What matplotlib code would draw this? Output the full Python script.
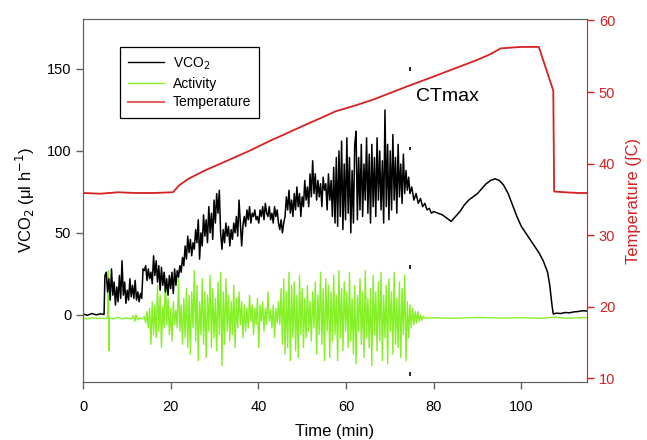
import numpy as np
import matplotlib
matplotlib.use("Agg")
import matplotlib.pyplot as plt
from matplotlib.lines import Line2D

plt.rcParams['font.family'] = ['Liberation Sans', 'DejaVu Sans']

# VCO2 trace (time in min, value in ul/h)
vco2_t = [0, 1, 2, 3, 4, 4.8, 5.0, 5.3, 5.6, 5.9, 6.2, 6.5, 6.8, 7.1, 7.4, 7.7, 8.0, 8.3, 8.6, 8.9,
          9.2, 9.5, 9.8, 10.1, 10.4, 10.7, 11.0, 11.3, 11.6, 11.9, 12.2, 12.5, 12.8, 13.1, 13.4, 13.7,
          14.0, 14.3, 14.6, 14.9, 15.2, 15.5, 15.8, 16.1, 16.4, 16.7, 17.0, 17.3, 17.6, 17.9, 18.2,
          18.5, 18.8, 19.1, 19.4, 19.7, 20.0, 20.3, 20.6, 20.9, 21.2, 21.5, 21.8, 22.1, 22.4, 22.7,
          23.0, 23.3, 23.6, 23.9, 24.2, 24.5, 24.8, 25.1, 25.4, 25.7, 26.0, 26.3, 26.6, 26.9, 27.2,
          27.5, 27.8, 28.1, 28.4, 28.7, 29.0, 29.3, 29.6, 29.9, 30.2, 30.5, 30.8, 31.1, 31.4, 31.7,
          32.0, 32.3, 32.6, 32.9, 33.2, 33.5, 33.8, 34.1, 34.4, 34.7, 35.0, 35.3, 35.6, 35.9, 36.2,
          36.5, 36.8, 37.1, 37.4, 37.7, 38.0, 38.3, 38.6, 38.9, 39.2, 39.5, 39.8, 40.1, 40.4, 40.7,
          41.0, 41.3, 41.6, 41.9, 42.2, 42.5, 42.8, 43.1, 43.4, 43.7, 44.0, 44.3, 44.6, 44.9, 45.2,
          45.5, 45.8, 46.1, 46.4, 46.7, 47.0, 47.3, 47.6, 47.9, 48.2, 48.5, 48.8, 49.1, 49.4, 49.7,
          50.0, 50.3, 50.6, 50.9, 51.2, 51.5, 51.8, 52.1, 52.4, 52.7, 53.0, 53.3, 53.6, 53.9, 54.2,
          54.5, 54.8, 55.1, 55.4, 55.7, 56.0, 56.3, 56.6, 56.9, 57.2, 57.5, 57.8, 58.1, 58.4, 58.7,
          59.0, 59.3, 59.6, 59.9, 60.2, 60.5, 60.8, 61.1, 61.4, 61.7, 62.0, 62.3, 62.6, 62.9, 63.2,
          63.5, 63.8, 64.1, 64.4, 64.7, 65.0, 65.3, 65.6, 65.9, 66.2, 66.5, 66.8, 67.1, 67.4, 67.7,
          68.0, 68.3, 68.6, 68.9, 69.2, 69.5, 69.8, 70.1, 70.4, 70.7, 71.0, 71.3, 71.6, 71.9, 72.2,
          72.5, 72.8, 73.1, 73.4, 73.7, 74.0, 74.3, 74.6, 75.0, 75.5, 76.0, 76.5, 77.0, 77.5, 78.0,
          78.5, 79.0, 79.5, 80.0, 81.0, 82.0, 83.0, 84.0, 85.0, 86.0, 87.0, 88.0, 89.0, 90.0, 91.0,
          92.0, 93.0, 94.0, 95.0, 96.0, 97.0, 98.0, 99.0, 100.0, 101.0, 102.0, 103.0, 104.0, 105.0,
          106.0, 106.5, 107.0, 107.3, 108, 109, 110, 111, 112, 113, 114, 115]
vco2_v = [0.5, -0.3, 0.8, 0, 0.6, 0.2, 24, 26, 14, 22, 9, 28, 12, 20, 6, 17, 8, 24, 10, 33,
          12, 20, 7, 15, 9, 22, 11, 18, 10, 21, 9, 14, 8, 13, 10, 28,
          27, 30, 21, 28, 22, 26, 19, 36, 24, 33, 20, 30, 15, 29, 18,
          26, 14, 22, 12, 24, 16, 26, 13, 28, 18, 27, 23, 30, 26, 35,
          30, 42, 34, 48, 38, 46, 36, 44, 40, 52, 44, 58, 34, 50, 42,
          61, 48, 58, 44, 66, 50, 62, 46, 70, 56, 74, 62, 76, 50, 40,
          52, 44, 56, 48, 54, 42, 52, 46, 56, 50, 60, 48, 70, 56, 42,
          55, 60, 54, 64, 58, 66, 56, 62, 60, 64, 58, 60, 56, 64, 60,
          66, 58, 68, 62, 60, 66, 58, 62, 56, 66, 60, 64, 56, 52, 58,
          50, 56, 60, 72, 64, 76, 62, 70, 60, 74, 64, 78, 66, 74, 60,
          72, 66, 82, 70, 78, 66, 86, 72, 94, 74, 86, 70, 82, 72, 80,
          66, 84, 76, 80, 64, 86, 70, 82, 60, 90, 56, 96, 54, 100, 60,
          106, 52, 92, 58, 108, 62, 96, 50, 88, 56, 104, 112, 58, 96, 64,
          104, 60, 92, 70, 108, 62, 98, 56, 104, 66, 96, 60, 108, 70, 100,
          64, 94, 56, 125, 66, 104, 58, 100, 64, 110, 70, 96, 62, 104, 72,
          92, 68, 98, 74, 88, 76, 84, 74, 78, 70, 74, 68, 71, 66, 68,
          64, 65, 62, 63, 62, 61, 59, 57, 60, 63, 67, 70, 72, 74, 77,
          80, 82, 83, 82, 79, 74, 67, 60, 54, 50, 46, 42, 38, 33,
          26, 18, 6, 0.5, 1, 0.8, 1.4, 1.2, 1.8, 2, 2.5, 2.3]

# activity trace (same left axis units)
act_t = [0, 1, 2, 3, 4, 5, 5.6, 5.8, 5.9, 6.0, 7, 8, 9, 10, 11, 11.5, 11.8, 12.1, 12.4, 13, 13.5,
         14, 14.3, 14.6, 14.9, 15.2, 15.5, 15.8, 16.1, 16.4, 16.7, 17.0, 17.3, 17.6, 17.9, 18.2,
         18.5, 18.8, 19.1, 19.4, 19.7, 20.0, 20.3, 20.6, 20.9, 21.2, 21.5, 21.8, 22.1, 22.4, 22.7,
         23.0, 23.3, 23.6, 23.9, 24.2, 24.5, 24.8, 25.1, 25.4, 25.7, 26.0, 26.3, 26.6, 26.9, 27.2,
         27.5, 27.8, 28.1, 28.4, 28.7, 29.0, 29.3, 29.6, 29.9, 30.2, 30.5, 30.8, 31.1, 31.4, 31.7,
         32.0, 32.3, 32.6, 32.9, 33.2, 33.5, 33.8, 34.1, 34.4, 34.7, 35.0, 35.3, 35.6, 35.9, 36.2,
         36.5, 36.8, 37.1, 37.4, 37.7, 38.0, 38.3, 38.6, 38.9, 39.2, 39.5, 39.8, 40.1, 40.4, 40.7,
         41.0, 41.3, 41.6, 41.9, 42.2, 42.5, 42.8, 43.1, 43.4, 43.7, 44.0, 44.3, 44.6, 44.9, 45.2,
         45.5, 45.8, 46.1, 46.4, 46.7, 47.0, 47.3, 47.6, 47.9, 48.2, 48.5, 48.8, 49.1, 49.4, 49.7,
         50.0, 50.3, 50.6, 50.9, 51.2, 51.5, 51.8, 52.1, 52.4, 52.7, 53.0, 53.3, 53.6, 53.9, 54.2,
         54.5, 54.8, 55.1, 55.4, 55.7, 56.0, 56.3, 56.6, 56.9, 57.2, 57.5, 57.8, 58.1, 58.4, 58.7,
         59.0, 59.3, 59.6, 59.9, 60.2, 60.5, 60.8, 61.1, 61.4, 61.7, 62.0, 62.3, 62.6, 62.9, 63.2,
         63.5, 63.8, 64.1, 64.4, 64.7, 65.0, 65.3, 65.6, 65.9, 66.2, 66.5, 66.8, 67.1, 67.4, 67.7,
         68.0, 68.3, 68.6, 68.9, 69.2, 69.5, 69.8, 70.1, 70.4, 70.7, 71.0, 71.3, 71.6, 71.9, 72.2,
         72.5, 72.8, 73.1, 73.4, 73.7, 74.0, 74.3, 74.6, 74.9, 75.2, 75.5, 75.8, 76.1, 76.4, 76.7,
         77.0, 77.3, 77.6, 78, 80, 85, 90, 95, 100, 105, 107.3, 110, 115]
act_v = [-2, -2.5, -1.8, -2.2, -2, -2.3, -2, 27, -22, -2, -2.5, -1.5, -2.5, -1.8, -2.6, -0.5, -4, 0, -3, -2, -2.5,
         -1, -5, 2, -8, 4, -18, 8, -12, 6, -14, 18, -10, 12, -20, 5,
         -8, 24, -6, 10, -12, 4, -16, 8, -6, 3, -8, 22, -10, 6, -18,
         10, -14, 16, -20, 12, -24, 14, -8, 27, -16, 18, -28, 8, -12, 22,
         -18, 14, -26, 12, -10, 24, -20, 16, -14, 10, -22, 20, -12, 26, -31,
         14, -18, 22, -10, 12, -16, 8, -12, 18, -20, 10, -8, 14, -6, 8,
         -14, 6, -10, 4, -8, 12, -4, 6, -12, 4, -6, 10, -20, 6, -4,
         8, -10, 4, -6, 14, -4, 3, -8, 6, -14, 4, -5, 8, -6, 16,
         -18, 22, -24, 14, -20, 26, -28, 18, -14, 20, -22, 12, -26, 24, -12,
         16, -20, 10, -14, 18, -10, 8, -16, 14, -8, 20, -24, 12, -12, 26,
         -18, 16, -28, 22, -10, 18, -26, 14, -16, 24, -12, 12, -28, 27, -14,
         16, -22, 20, -10, 14, -20, 26, -16, 10, -24, 18, -30, 12, -10, 22,
         -18, 14, -26, 27, -14, 10, -20, 16, -31, 24, -12, 14, -22, 20, -16,
         26, -28, 12, -14, 18, -30, 22, -10, 14, -24, 26, -18, 10, -20, 20,
         -26, 16, -12, 24, -28, 8, -14, 6, -8, 4, -6, 2, -5, 2, -4,
         0, -3.5, -1, -2, -1.8, -2.1, -1.6, -2, -1.8, -2.1, -1.4, -2, -1.7]

# temperature (right axis, deg C)
temp_t = [0, 4, 8, 12, 16, 20.5, 22.0, 24.1, 28, 33.6, 38, 42.7, 46, 50.3, 54, 57.6, 62, 66,
          69.4, 74, 79.3, 84, 90, 93, 95.3, 100, 104.0, 107.3, 107.5, 110, 113, 115]
temp_v = [35.9, 35.8, 36.0, 35.9, 35.9, 36.0, 37.0, 37.9, 39.1, 40.6, 41.8, 43.2, 44.1, 45.3, 46.3, 47.3,
          48.1, 48.9, 49.7, 50.8, 52.0, 53.1, 54.5, 55.3, 56.1, 56.3, 56.3, 50.2, 36.1, 36.0, 35.9, 35.9]

# short tick marks at the CTmax time
ctmax_t = 74.5
ctmax_marks = [150, 101.5, 29, -36]

fig = plt.figure(figsize=(6.47, 4.4), dpi=100)
ax = fig.add_axes([0.1283, 0.1318, 0.779, 0.825])
ax2 = ax.twinx()

ax.plot(act_t, act_v, color='#86f026', lw=1.0, zorder=2)
ax.plot(vco2_t, vco2_v, color='black', lw=1.1, zorder=3)
ax2.plot(temp_t, temp_v, color='#d42121', lw=1.3)

for m in ctmax_marks:
    ax.vlines(ctmax_t, m - 1.2, m + 1.2, color='black', lw=1.2)
ax.text(75.9, 133, 'CTmax', fontsize=14, va='center', ha='left')

ax.set_xlim(0, 115)
ax.set_ylim(-41, 180.5)
ax2.set_ylim(9.5, 60.2)
ax.set_xticks([0, 20, 40, 60, 80, 100])
ax.set_yticks([0, 50, 100, 150])
ax2.set_yticks([10, 20, 30, 40, 50, 60])

ax.set_xlabel('Time (min)', fontsize=12, labelpad=7)
ax.set_ylabel(r'VCO$_2$ ($\mathregular{\mu}$l h$^{-1}$)', fontsize=12, labelpad=7)
ax2.set_ylabel('Temperature (\u222bC)', fontsize=12, color='#d42121', labelpad=8)

red = '#d42121'
for s in ['left', 'bottom', 'top']:
    ax.spines[s].set_color('#606060')
    ax2.spines[s].set_color('#606060')
ax.spines['right'].set_visible(False)
ax2.spines['right'].set_color(red)
ax.tick_params(direction='out', length=5, width=1, colors='#606060', labelcolor='black', labelsize=10.5)
ax.tick_params(axis='x', pad=8)
ax2.tick_params(direction='out', length=5, width=1, colors=red, labelcolor=red, labelsize=10.5)

handles = [Line2D([], [], color='black', lw=1.0),
           Line2D([], [], color='#86f026', lw=1.0),
           Line2D([], [], color='#e06060', lw=1.5)]
leg = ax2.legend(handles, [r'VCO$_2$', 'Activity', 'Temperature'], loc='upper left',
                 bbox_to_anchor=(0.073, 0.923), borderaxespad=0, fontsize=10, fancybox=False,
                 framealpha=1, edgecolor='black', borderpad=0.6, handlelength=2.6,
                 handletextpad=0.6, labelspacing=0.35)
leg.get_frame().set_linewidth(0.9)

fig.savefig('out.png', dpi=100)
